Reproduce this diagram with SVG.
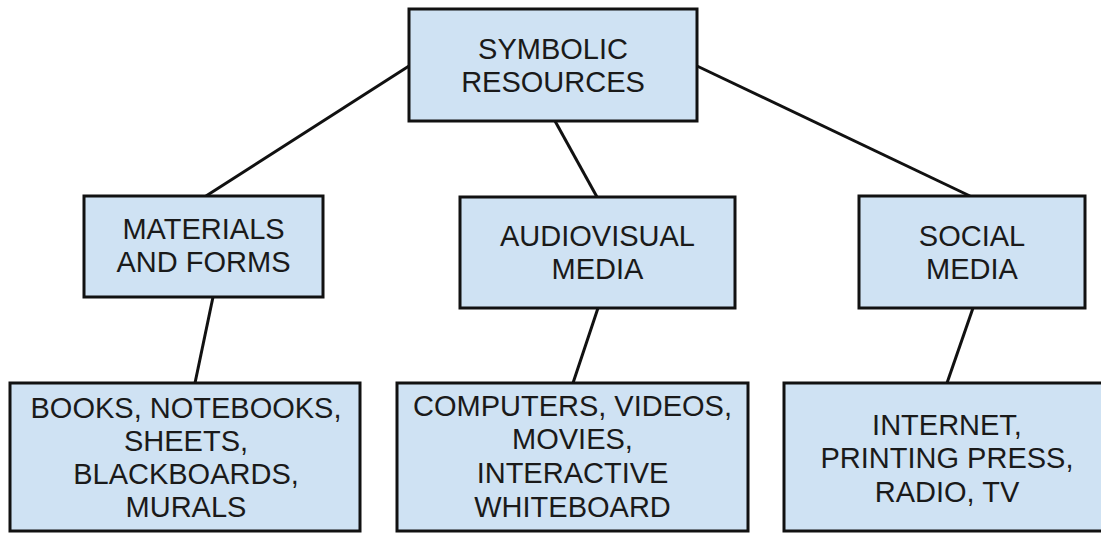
<svg xmlns="http://www.w3.org/2000/svg" width="1101" height="533" viewBox="0 0 1101 533">
<style>
.box{fill:#cfe2f3;stroke:#111;stroke-width:3}
.lbl{font-family:"Liberation Sans",Arial,sans-serif;font-size:29px;fill:#1a1a1a;text-anchor:middle}
.conn{stroke:#111;stroke-width:3;fill:none}
</style>
<rect width="1101" height="533" fill="#fff"/>
<g id="connectors">
<line class="conn" x1="409" y1="66" x2="206" y2="196"/>
<line class="conn" x1="697" y1="66" x2="970" y2="196"/>
<line class="conn" x1="555" y1="121" x2="597" y2="197"/>
<line class="conn" x1="213" y1="297" x2="195" y2="383"/>
<line class="conn" x1="598" y1="308" x2="573" y2="383"/>
<line class="conn" x1="973" y1="308" x2="947" y2="383"/>
</g>
<g id="symbolic">
<rect class="box" x="409" y="9" width="288" height="112"/>
<text class="lbl" x="553" y="59">SYMBOLIC</text>
<text class="lbl" x="553" y="92">RESOURCES</text>
</g>
<g id="materials">
<rect class="box" x="84" y="196" width="239" height="101"/>
<text class="lbl" x="203.5" y="239">MATERIALS</text>
<text class="lbl" x="203.5" y="272">AND FORMS</text>
</g>
<g id="audiovisual">
<rect class="box" x="460" y="197" width="275" height="111"/>
<text class="lbl" x="597.5" y="246">AUDIOVISUAL</text>
<text class="lbl" x="597.5" y="279">MEDIA</text>
</g>
<g id="social">
<rect class="box" x="859" y="196" width="226" height="112"/>
<text class="lbl" x="972" y="246">SOCIAL</text>
<text class="lbl" x="972" y="279">MEDIA</text>
</g>
<g id="books">
<rect class="box" x="10" y="383" width="350" height="148"/>
<text class="lbl" x="186" y="418">BOOKS, NOTEBOOKS,</text>
<text class="lbl" x="186" y="451">SHEETS,</text>
<text class="lbl" x="186" y="484">BLACKBOARDS,</text>
<text class="lbl" x="186" y="517">MURALS</text>
</g>
<g id="computers">
<rect class="box" x="397" y="383" width="351" height="148"/>
<text class="lbl" x="572.5" y="416">COMPUTERS, VIDEOS,</text>
<text class="lbl" x="572.5" y="449">MOVIES,</text>
<text class="lbl" x="572.5" y="483">INTERACTIVE</text>
<text class="lbl" x="572.5" y="517">WHITEBOARD</text>
</g>
<g id="internet">
<rect class="box" x="784" y="383" width="330" height="148"/>
<text class="lbl" x="947" y="435">INTERNET,</text>
<text class="lbl" x="947" y="468">PRINTING PRESS,</text>
<text class="lbl" x="947" y="502">RADIO, TV</text>
</g>
</svg>
